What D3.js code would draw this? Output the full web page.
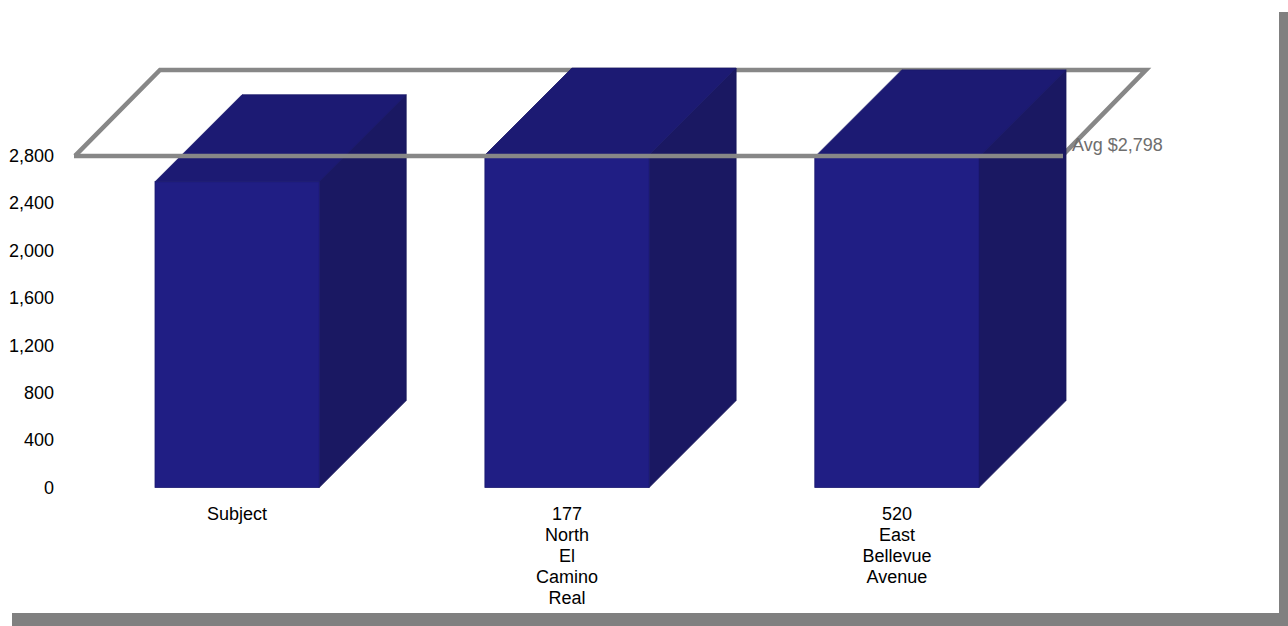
<!DOCTYPE html>
<html>
<head>
<meta charset="utf-8">
<script src="https://cdn.jsdelivr.net/npm/d3@7"></script>
<style>
  html, body { margin: 0; padding: 0; background: #ffffff; }
  svg { display: block; font-family: "Liberation Sans", Arial, sans-serif; }
</style>
</head>
<body>
<svg id="chart" width="1288" height="626"></svg>
<script>
// Monthly rent comparison: subject property vs. two comparables
const categories = ["Subject", "177 North El Camino Real", "520 East Bellevue Avenue"];
const labelLines = [["Subject"], ["177", "North", "El", "Camino", "Real"], ["520", "East", "Bellevue", "Avenue"]];
const rents = [2580, 2805, 2790];
const averageRent = 2798;
const yTicks = [0, 400, 800, 1200, 1600, 2000, 2400, 2800];

const W = 1288, H = 626;
const svg = d3.select("#chart");

// card with drop shadow
svg.append("rect").attr("x", 12).attr("y", 12).attr("width", W).attr("height", H).attr("fill", "#808080");
svg.append("rect").attr("x", 0).attr("y", 0).attr("width", 1279).attr("height", 613).attr("fill", "#ffffff");

const depthX = 87, depthY = 87;

const x = d3.scaleBand().domain(categories).range([155, 979]).paddingInner(0.5023).paddingOuter(0);
const y = d3.scaleLinear().domain([0, 2800]).range([487.5, 155.7]);

// value axis: labels only
const yAxis = svg.append("g")
  .attr("transform", "translate(62,0)")
  .call(d3.axisLeft(y).tickValues(yTicks).tickSize(0).tickPadding(8).tickFormat(d3.format(",")));
yAxis.select(".domain").remove();
yAxis.selectAll("text").attr("font-size", 18).attr("fill", "#000").attr("font-family", "Liberation Sans, Arial, sans-serif");

// average plane geometry
const planeX0 = 75, planeX1 = 1062;
const ay = y(averageRent);
const grey = "#878787";

// back and side edges of the average plane sit behind the bars
svg.append("path")
  .attr("d", `M${planeX0},${ay} L${planeX0 + depthX - 2},${ay - depthY + 1} L${planeX1 + depthX - 3},${ay - depthY + 1} L${planeX1},${ay}`)
  .attr("fill", "none").attr("stroke", grey).attr("stroke-width", 4.5).attr("stroke-linejoin", "miter");

// 3D bars
const bars = svg.append("g").selectAll("g").data(categories).join("g");
bars.each(function (c, i) {
  const g = d3.select(this);
  const x0 = x(c), x1 = x(c) + x.bandwidth();
  const yt = y(rents[i]), yb = y(0);
  // right side face
  g.append("path")
    .attr("d", `M${x1},${yt} L${x1 + depthX},${yt - depthY} L${x1 + depthX},${yb - depthY} L${x1},${yb} Z`)
    .attr("fill", "#1a1862").attr("stroke", "#17165a").attr("stroke-width", 0.8);
  // top face
  g.append("path")
    .attr("d", `M${x0},${yt} L${x0 + depthX},${yt - depthY} L${x1 + depthX},${yt - depthY} L${x1},${yt} Z`)
    .attr("fill", "#1c1a73").attr("stroke", "#19186a").attr("stroke-width", 0.8);
  // front face
  g.append("rect")
    .attr("x", x0).attr("y", yt).attr("width", x.bandwidth()).attr("height", yb - yt)
    .attr("fill", "#201e84").attr("stroke", "#191870").attr("stroke-width", 0.8);
});

// front edge of the average plane passes in front of the bars
svg.append("line")
  .attr("x1", planeX0 - 1).attr("x2", planeX1 + 1).attr("y1", ay).attr("y2", ay)
  .attr("stroke", grey).attr("stroke-width", 4.5);

svg.append("text")
  .attr("x", planeX1 + 10).attr("y", ay - 5)
  .attr("font-size", 18).attr("fill", "#6e6e6e")
  .text("Avg $" + d3.format(",")(averageRent));

// category labels, one word per line
categories.forEach((c, i) => {
  const t = svg.append("text")
    .attr("text-anchor", "middle")
    .attr("font-size", 18).attr("fill", "#000");
  labelLines[i].forEach((w, k) => {
    t.append("tspan").attr("x", x(c) + x.bandwidth() / 2).attr("y", 520 + k * 21).text(w);
  });
});
</script>
</body>
</html>
